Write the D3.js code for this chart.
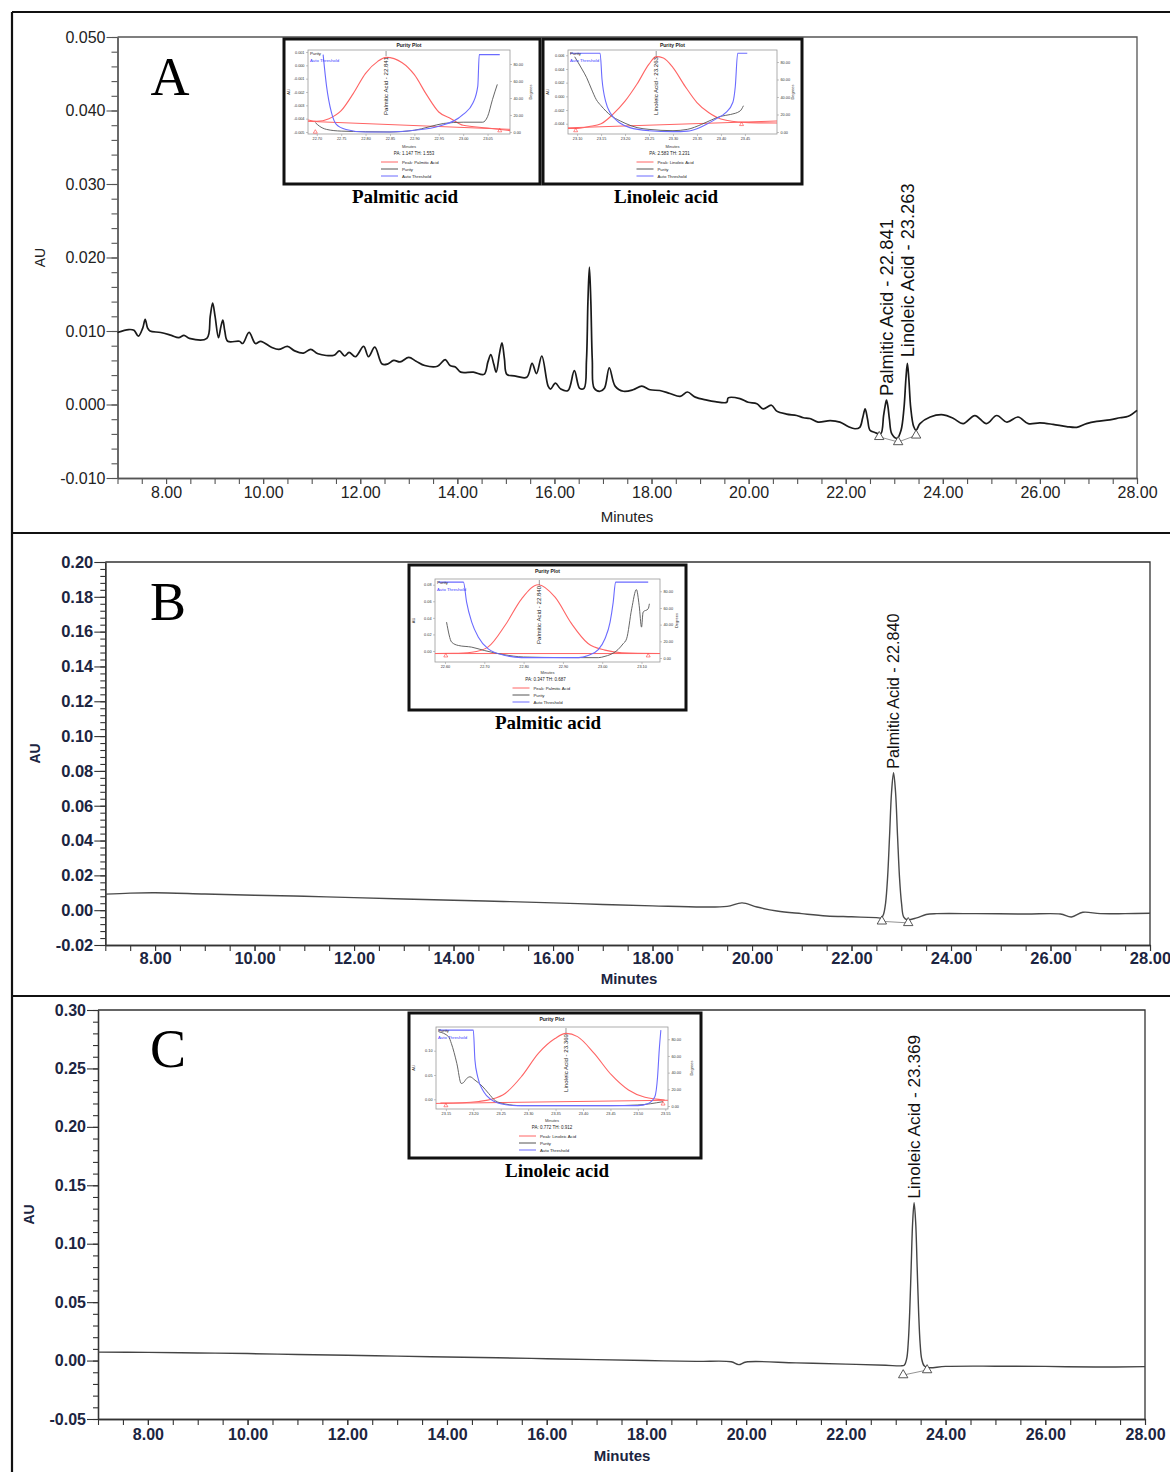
<!DOCTYPE html>
<html><head><meta charset="utf-8">
<script src="https://cdn.jsdelivr.net/npm/d3@7"></script>
<style>body{margin:0;background:#fff}svg{display:block}</style>
</head><body>
<svg id="chart" width="1170" height="1472"></svg>
<script>
// ---------------- DATA ----------------
const minuteTicks = [8,10,12,14,16,18,20,22,24,26,28];
const auTicksA = [-0.010,0.000,0.010,0.020,0.030,0.040,0.050];
const auTicksB = [-0.02,0.00,0.02,0.04,0.06,0.08,0.10,0.12,0.14,0.16,0.18,0.20];
const auTicksC = [-0.05,0.00,0.05,0.10,0.15,0.20,0.25,0.30];
const panelLetters = ["A","B","C"];

const traceA = [[7.00,0.0098],[7.23,0.0102],[7.34,0.0101],[7.43,0.0093],[7.52,0.0104],[7.57,0.0116],[7.62,0.0104],[7.67,0.0100],[7.89,0.0098],[8.11,0.0094],[8.26,0.0091],[8.37,0.0094],[8.48,0.0090],[8.84,0.0090],[8.91,0.0120],[8.96,0.0138],[9.01,0.0120],[9.08,0.0091],[9.13,0.0106],[9.17,0.0115],[9.21,0.0100],[9.27,0.0086],[9.51,0.0086],[9.58,0.0083],[9.71,0.0098],[9.84,0.0083],[9.95,0.0086],[10.17,0.0078],[10.32,0.0075],[10.50,0.0079],[10.65,0.0073],[10.83,0.0070],[10.98,0.0075],[11.13,0.0069],[11.46,0.0067],[11.57,0.0073],[11.68,0.0066],[11.77,0.0071],[11.90,0.0065],[12.07,0.0079],[12.17,0.0065],[12.30,0.0078],[12.45,0.0055],[12.56,0.0055],[12.69,0.0060],[12.82,0.0058],[13.00,0.0064],[13.15,0.0059],[13.33,0.0053],[13.59,0.0052],[13.75,0.0061],[13.85,0.0053],[13.96,0.0051],[14.07,0.0044],[14.33,0.0044],[14.55,0.0041],[14.63,0.0058],[14.69,0.0068],[14.75,0.0055],[14.80,0.0044],[14.87,0.0070],[14.92,0.0084],[14.97,0.0062],[15.02,0.0041],[15.17,0.0039],[15.43,0.0037],[15.54,0.0056],[15.63,0.0042],[15.74,0.0066],[15.87,0.0025],[15.92,0.0021],[16.02,0.0029],[16.13,0.0021],[16.28,0.0019],[16.41,0.0046],[16.52,0.0022],[16.61,0.0022],[16.66,0.0060],[16.69,0.0140],[16.72,0.0187],[16.75,0.0140],[16.78,0.0060],[16.82,0.0022],[16.94,0.0018],[17.03,0.0022],[17.13,0.0050],[17.25,0.0025],[17.42,0.0018],[17.62,0.0020],[17.80,0.0025],[17.97,0.0020],[18.17,0.0019],[18.38,0.0015],[18.59,0.0011],[18.74,0.0017],[18.90,0.0010],[19.14,0.0006],[19.31,0.0004],[19.55,0.0003],[19.58,0.0009],[19.82,0.0008],[19.99,0.0003],[20.17,0.0001],[20.30,-0.0006],[20.47,-0.0001],[20.58,-0.0009],[20.78,-0.0013],[20.99,-0.0015],[21.13,-0.0018],[21.26,-0.0019],[21.43,-0.0024],[21.68,-0.0022],[21.88,-0.0024],[22.05,-0.0030],[22.19,-0.0033],[22.29,-0.0031],[22.35,-0.0018],[22.40,-0.0006],[22.45,-0.0020],[22.50,-0.0035],[22.60,-0.0038],[22.72,-0.0040],[22.78,-0.0015],[22.81,-0.0003],[22.84,0.0006],[22.87,-0.0003],[22.90,-0.0020],[22.95,-0.0040],[23.06,-0.0046],[23.14,-0.0035],[23.20,-0.0005],[23.24,0.0035],[23.27,0.0056],[23.30,0.0035],[23.34,-0.0005],[23.40,-0.0030],[23.45,-0.0035],[23.53,-0.0026],[23.74,-0.0017],[24.01,-0.0014],[24.22,-0.0019],[24.42,-0.0026],[24.66,-0.0015],[24.90,-0.0026],[25.11,-0.0015],[25.32,-0.0024],[25.55,-0.0017],[25.76,-0.0026],[26.00,-0.0025],[26.27,-0.0027],[26.55,-0.0030],[26.76,-0.0031],[26.96,-0.0026],[27.17,-0.0023],[27.44,-0.0021],[27.65,-0.0018],[27.82,-0.0016],[28.00,-0.0008]];
const markersA = [[22.69,-0.0044],[23.08,-0.0051],[23.45,-0.0042]];
const peakLabelsA = [["Palmitic Acid - 22.841",22.841,0.0006],["Linoleic Acid - 23.263",23.263,0.0056]];

const traceB = [[7.00,0.0092],[7.5,0.0098],[8.0,0.0100],[9.0,0.0093],[10.0,0.0086],[11.0,0.0080],[12.0,0.0072],[13.0,0.0064],[14.0,0.0057],[15.0,0.0050],[16.0,0.0042],[17.0,0.0033],[18.0,0.0025],[19.0,0.0018],[19.5,0.0022],[19.8,0.0042],[20.1,0.0018],[20.5,-0.0005],[21.0,-0.0020],[21.5,-0.0033],[22.0,-0.0038],[22.5,-0.0043],[22.60,-0.0044],[22.645,-0.0022],[22.685,0.0041],[22.725,0.0187],[22.765,0.0428],[22.805,0.0679],[22.845,0.0790],[22.885,0.0679],[22.925,0.0428],[22.965,0.0187],[23.005,0.0041],[23.05,-0.0040],[23.12,-0.0055],[23.31,-0.0044],[23.50,-0.0025],[23.71,-0.0020],[24.5,-0.0020],[25.5,-0.0022],[26.2,-0.0022],[26.42,-0.0039],[26.65,-0.0012],[27.0,-0.0020],[27.5,-0.0020],[28.0,-0.0018]];
const markersB = [[22.61,-0.0064],[23.14,-0.0073]];
const peakLabelsB = [["Palmitic Acid - 22.840",22.840,0.0790]];

const traceC = [[7.00,0.0072],[8.0,0.0070],[9.0,0.0065],[10.0,0.0060],[11.0,0.0052],[12.0,0.0046],[13.0,0.0038],[14.0,0.0031],[15.0,0.0024],[16.0,0.0016],[17.0,0.0008],[18.0,0.0000],[19.0,-0.0007],[19.7,-0.0010],[19.85,-0.0035],[20.0,-0.0012],[21.0,-0.0020],[22.0,-0.0030],[22.8,-0.0040],[23.10,-0.0045],[23.17,-0.0040],[23.22,0.0016],[23.25,0.0144],[23.28,0.0408],[23.31,0.0801],[23.34,0.1186],[23.369,0.1350],[23.40,0.1186],[23.43,0.0801],[23.46,0.0408],[23.49,0.0144],[23.52,0.0016],[23.57,-0.0045],[23.65,-0.0060],[24.0,-0.0050],[25.0,-0.0048],[26.0,-0.0050],[27.0,-0.0055],[28.0,-0.0052]];
const markersC = [[23.15,-0.0124],[23.63,-0.0081]];
const peakLabelsC = [["Linoleic Acid - 23.369",23.369,0.1350]];

// purity plot insets
const degreeTicks = [0,20,40,60,80];
const insetA1XTicks = [22.70,22.75,22.80,22.85,22.90,22.95,23.00,23.05];
const insetA1YTicks = [0.001,0.000,-0.001,-0.002,-0.003,-0.004,-0.005];
const insetA1Peak = [[22.682,-0.0041],[22.70,-0.0042],[22.725,-0.0040],[22.75,-0.0034],[22.775,-0.0021],[22.80,-0.0006],[22.825,0.0003],[22.842,0.0006],[22.875,0.0002],[22.90,-0.0007],[22.925,-0.0022],[22.95,-0.0035],[22.975,-0.0040],[23.00,-0.0045],[23.05,-0.0047],[23.096,-0.0049]];
const insetA1Base = [[22.682,-0.0042],[23.096,-0.0048]];
const insetA1Tri = [[22.697,-0.0050],[23.075,-0.0049]];
const insetA1Purity = [[22.697,11],[22.705,7],[22.72,3],[22.75,1],[22.80,0.3],[22.85,0],[22.90,2],[22.93,6],[22.96,10],[23.00,11.5],[23.04,11.5],[23.05,18],[23.06,38],[23.07,56]];
const insetA1Thresh = [[22.713,91],[22.72,54],[22.73,23],[22.74,9],[22.76,3],[22.80,0],[22.85,0],[22.90,2],[22.95,6.7],[23.00,20.6],[23.02,34],[23.03,54],[23.033,91],[23.075,91]];

const insetA2XTicks = [23.10,23.15,23.20,23.25,23.30,23.35,23.40,23.45];
const insetA2YTicks = [0.006,0.004,0.002,0.000,-0.002,-0.004];
const insetA2Peak = [[23.081,-0.0047],[23.095,-0.0047],[23.125,-0.0044],[23.15,-0.0040],[23.175,-0.0026],[23.20,-0.0007],[23.225,0.0018],[23.25,0.0047],[23.265,0.0058],[23.28,0.0056],[23.30,0.0042],[23.325,0.0015],[23.35,-0.0009],[23.375,-0.0024],[23.40,-0.0033],[23.45,-0.0038],[23.517,-0.0039]];
const insetA2Base = [[23.081,-0.0046],[23.517,-0.0036]];
const insetA2Tri = [[23.097,-0.0050],[23.443,-0.0041]];
const insetA2Purity = [[23.095,86],[23.11,72],[23.12,62],[23.13,49],[23.14,37],[23.15,30],[23.17,19],[23.19,12.6],[23.20,10],[23.225,5],[23.25,3],[23.30,1.5],[23.33,3],[23.36,8.8],[23.38,13.7],[23.40,18],[23.42,20],[23.44,24],[23.447,30]];
const insetA2Thresh = [[23.085,90],[23.148,90],[23.152,60],[23.16,34],[23.17,21],[23.19,10],[23.21,5],[23.25,1.5],[23.30,0.4],[23.33,1],[23.35,3.8],[23.37,8.8],[23.39,15],[23.41,22],[23.425,34],[23.43,52],[23.435,90],[23.455,90]];

const insetBXTicks = [22.60,22.70,22.80,22.90,23.00,23.10];
const insetBYTicks = [0.00,0.02,0.04,0.06,0.08];
const insetBPeak = [[22.575,-0.0030],[22.62,-0.0028],[22.668,-0.0015],[22.71,0.0050],[22.753,0.0310],[22.795,0.0630],[22.837,0.0800],[22.88,0.0650],[22.922,0.0330],[22.964,0.0090],[23.007,0.0010],[23.05,-0.0022],[23.147,-0.0030]];
const insetBBase = [[22.575,-0.0031],[23.147,-0.0031]];
const insetBTri = [[22.602,-0.0058],[23.117,-0.0058]];
const insetBPurity = [[22.604,43],[22.617,19],[22.634,15],[22.668,13],[22.70,9],[22.75,4],[22.80,1.2],[22.90,0.5],[22.99,0.4],[23.007,2],[23.02,4],[23.04,10],[23.053,17],[23.062,23],[23.075,59],[23.087,82],[23.094,63],[23.10,37],[23.104,55],[23.117,59],[23.12,65]];
const insetBThresh = [[22.583,91],[22.647,91],[22.655,67],[22.668,43],[22.685,25],[22.71,11],[22.753,3],[22.795,0.4],[22.94,0.4],[22.964,3],[22.99,10],[23.007,23],[23.02,43],[23.028,67],[23.034,91],[23.117,91]];

const insetCXTicks = [23.15,23.20,23.25,23.30,23.35,23.40,23.45,23.50,23.55];
const insetCYTicks = [0.00,0.05,0.10];
const insetCPeak = [[23.14,-0.0080],[23.18,-0.0072],[23.21,-0.0045],[23.235,0.0005],[23.258,0.0120],[23.288,0.0470],[23.319,0.0950],[23.349,0.1250],[23.369,0.1356],[23.39,0.1290],[23.42,0.0950],[23.452,0.0500],[23.483,0.0190],[23.513,0.0040],[23.549,-0.0014]];
const insetCBase = [[23.132,-0.0085],[23.555,-0.0020]];
const insetCTri = [[23.15,-0.0130],[23.546,-0.0095]];
const insetCPurity = [[23.137,89],[23.155,83],[23.16,75],[23.17,51],[23.178,27],[23.182,28],[23.188,33],[23.194,35],[23.203,31],[23.216,24],[23.228,15],[23.24,6.4],[23.258,2.4],[23.288,0.4],[23.45,0.4],[23.50,1.2],[23.546,5.2]];
const insetCThresh = [[23.137,91],[23.20,91],[23.203,55],[23.208,35],[23.219,17],[23.234,7],[23.252,2.4],[23.28,0.4],[23.50,0.4],[23.519,3],[23.531,11],[23.536,35],[23.539,67],[23.542,91]];

// ---------------- DRAW ----------------
const svg = d3.select("#chart");
const SANS = "'Liberation Sans', Arial, sans-serif";
const NARROW = "'Liberation Sans Narrow', 'Arial Narrow', 'Liberation Sans', Arial, sans-serif";
const SERIF = "'Liberation Serif', 'Times New Roman', serif";

svg.append("rect").attr("width",1170).attr("height",1472).attr("fill","#fff");

function drawChrom(p) {
  const x = d3.scaleLinear().domain([7,28]).range([p.left,p.right]);
  const y = d3.scaleLinear().domain(p.yDomain).range([p.bottom,p.top]);
  const g = svg.append("g");
  g.append("path").attr("d",`M${p.left},${p.top}H${p.right}V${p.bottom}`)
    .attr("fill","none").attr("stroke",p.axisColor).attr("stroke-width",1.3);
  const yMinor = d3.range(p.yDomain[0], p.yDomain[1]+1e-9, p.yMinor);
  g.append("g").attr("transform",`translate(${p.left},0)`)
    .call(d3.axisLeft(y).tickValues(yMinor).tickFormat("").tickSize(p.minorLen).tickSizeOuter(0));
  g.append("g").attr("transform",`translate(${p.left},0)`)
    .call(d3.axisLeft(y).tickValues(p.yTicks).tickFormat(d=>d.toFixed(p.yDec)).tickSize(11).tickSizeOuter(0).tickPadding(1));
  const xMinor = d3.range(7,28.001,0.5);
  g.append("g").attr("transform",`translate(0,${p.bottom})`)
    .call(d3.axisBottom(x).tickValues(xMinor).tickFormat("").tickSize(6).tickSizeOuter(0));
  g.append("g").attr("transform",`translate(0,${p.bottom})`)
    .call(d3.axisBottom(x).tickValues(minuteTicks).tickFormat(d=>d.toFixed(2)).tickSize(6).tickSizeOuter(0).tickPadding(p.xPad));
  g.selectAll(".domain").attr("stroke",p.axisColor).attr("stroke-width",1.3);
  g.selectAll(".tick line").attr("stroke",p.axisColor).attr("stroke-width",1.1);
  g.selectAll(".tick text").attr("font-family",SANS).attr("font-size",p.fontSize)
    .attr("font-weight",p.weight).attr("fill",p.textColor);
  g.append("text").attr("transform",`translate(${p.auX},${(p.top+p.bottom)/2}) rotate(-90)`)
    .attr("text-anchor","middle").attr("dy","0.35em").attr("font-family",SANS)
    .attr("font-size",p.titleSize).attr("font-weight",p.weight).attr("fill",p.textColor).text("AU");
  g.append("text").attr("x",p.minX).attr("y",p.minY).attr("text-anchor","middle")
    .attr("font-family",SANS).attr("font-size",p.titleSize+1).attr("font-weight",p.weight)
    .attr("fill",p.textColor).text("Minutes");
  g.append("path").datum(p.markers)
    .attr("d",d3.line().x(d=>x(d[0])).y(d=>y(d[1])))
    .attr("fill","none").attr("stroke","#777").attr("stroke-width",0.8);
  g.append("path").datum(p.data)
    .attr("d",d3.line().x(d=>x(d[0])).y(d=>y(d[1])).curve(d3.curveCatmullRom.alpha(0.5)))
    .attr("fill","none").attr("stroke",p.traceColor).attr("stroke-width",p.traceWidth)
    .attr("stroke-linejoin","round");
  g.selectAll(".mk").data(p.markers).join("path")
    .attr("transform",d=>`translate(${x(d[0])},${y(d[1])})`)
    .attr("d",d3.symbol(d3.symbolTriangle).size(38))
    .attr("fill","#fff").attr("stroke","#444").attr("stroke-width",0.9);
  p.labels.forEach((l,i)=>{
    g.append("text").attr("transform",`translate(${x(l[1])},${y(l[2])-p.labelGap[i]}) rotate(-90)`)
      .attr("dy","0.36em").attr("font-family",p.labelFont).attr("font-size",p.labelSize)
      .attr("textLength",p.labelLen[i]).attr("lengthAdjust","spacingAndGlyphs")
      .attr("fill","#111").text(l[0]);
  });
  g.append("text").attr("x",p.letterX).attr("y",p.letterY).attr("text-anchor","middle")
    .attr("font-family",SERIF).attr("font-size",54).attr("fill","#000").text(p.letter);
}

drawChrom({letter:panelLetters[0],letterX:170,letterY:95,left:117.5,right:1137,top:37,bottom:478,yDomain:[-0.010,0.050],
  yTicks:auTicksA,yMinor:0.002,yDec:3,minorLen:6,xPad:3,axisColor:"#555",textColor:"#222",fontSize:16,weight:"normal",
  titleSize:14,auX:40,minX:627,minY:522,data:traceA,markers:markersA,traceColor:"#1a1a1a",traceWidth:1.7,
  labels:peakLabelsA,labelGap:[4,6],labelLen:[177,174],labelFont:SANS,labelSize:18});
drawChrom({letter:panelLetters[1],letterX:168,letterY:620,left:105.3,right:1150,top:562,bottom:945,yDomain:[-0.02,0.20],
  yTicks:auTicksB,yMinor:0.004,yDec:2,minorLen:5,xPad:1,axisColor:"#333",textColor:"#1c2541",fontSize:16.5,weight:"bold",
  titleSize:14,auX:35,minX:629,minY:984,data:traceB,markers:markersB,traceColor:"#4a4a4a",traceWidth:1.4,
  labels:peakLabelsB,labelGap:[4],labelLen:[155],labelFont:NARROW,labelSize:17});
drawChrom({letter:panelLetters[2],letterX:168,letterY:1067,left:98,right:1145,top:1010,bottom:1419,yDomain:[-0.05,0.30],
  yTicks:auTicksC,yMinor:0.01,yDec:2,minorLen:5,xPad:4,axisColor:"#333",textColor:"#1c2541",fontSize:16,weight:"bold",
  titleSize:14,auX:29,minX:622,minY:1461,data:traceC,markers:markersC,traceColor:"#444",traceWidth:1.4,
  labels:peakLabelsC,labelGap:[4],labelLen:[164],labelFont:NARROW,labelSize:17});

const fr = svg.append("g").attr("stroke","#111").attr("stroke-width",2.2);
fr.append("line").attr("x1",12).attr("x2",1170).attr("y1",12).attr("y2",12);
fr.append("line").attr("x1",12).attr("x2",12).attr("y1",12).attr("y2",1472);
fr.append("line").attr("x1",12).attr("x2",1170).attr("y1",533).attr("y2",533);
fr.append("line").attr("x1",12).attr("x2",1170).attr("y1",996).attr("y2",996);

function drawInset(c) {
  const [bx,by,bw,bh] = c.box; const [pl,pt,pr,pb] = c.plot;
  const g = svg.append("g");
  g.append("rect").attr("x",bx).attr("y",by).attr("width",bw).attr("height",bh)
    .attr("fill","#fff").attr("stroke","#111").attr("stroke-width",3);
  const x = d3.scaleLinear().domain(c.xDomain).range([pl,pr]);
  const yl = d3.scaleLinear().domain(c.yLDomain).range([pb,pt]);
  const yr = d3.scaleLinear().domain(c.yRDomain).range([pb,pt]);
  const mid = (pl+pr)/2, cx = bx+bw/2;
  g.append("text").attr("x",mid).attr("y",by+7.5).attr("text-anchor","middle")
    .attr("font-family",SANS).attr("font-size",5).attr("font-weight","bold").attr("fill","#222").text("Purity Plot");
  const ax = g.append("g");
  ax.append("g").attr("transform",`translate(0,${pb})`)
    .call(d3.axisBottom(x).tickValues(c.xTicks).tickFormat(d=>d.toFixed(2)).tickSize(2).tickPadding(1.5));
  ax.append("g").attr("transform",`translate(${pl},0)`)
    .call(d3.axisLeft(yl).tickValues(c.yLTicks).tickFormat(d=>d.toFixed(c.yLDec)).tickSize(2).tickPadding(1.5));
  ax.append("g").attr("transform",`translate(${pr},0)`)
    .call(d3.axisRight(yr).tickValues(degreeTicks).tickFormat(d=>d.toFixed(2)).tickSize(2).tickPadding(1.5));
  ax.selectAll(".domain").remove();
  ax.selectAll(".tick line").attr("stroke","#888").attr("stroke-width",0.5);
  ax.selectAll(".tick text").attr("font-size",3.8).attr("fill","#333").attr("font-family",SANS);
  g.append("rect").attr("x",pl).attr("y",pt).attr("width",pr-pl).attr("height",pb-pt)
    .attr("fill","none").attr("stroke","#999").attr("stroke-width",0.8);
  g.append("text").attr("transform",`translate(${bx+6},${(pt+pb)/2}) rotate(-90)`).attr("text-anchor","middle")
    .attr("font-family",SANS).attr("font-size",4).attr("fill","#333").text("AU");
  g.append("text").attr("transform",`translate(${bx+bw-8},${(pt+pb)/2}) rotate(-90)`).attr("text-anchor","middle")
    .attr("font-family",SANS).attr("font-size",4).attr("fill","#333").text("Degrees");
  g.append("text").attr("x",mid).attr("y",by+109).attr("text-anchor","middle")
    .attr("font-family",SANS).attr("font-size",4).attr("fill","#333").text("Minutes");
  const clipId = "clip-"+c.id;
  svg.append("clipPath").attr("id",clipId).append("rect").attr("x",pl).attr("y",pt).attr("width",pr-pl).attr("height",pb-pt);
  const cg = g.append("g").attr("clip-path",`url(#${clipId})`);
  const lAU = d3.line().x(d=>x(d[0])).y(d=>yl(d[1])).curve(d3.curveMonotoneX);
  const lDeg = d3.line().x(d=>x(d[0])).y(d=>yr(d[1])).curve(d3.curveMonotoneX);
  cg.append("path").datum(c.base).attr("d",lAU).attr("fill","none").attr("stroke","#ff6464").attr("stroke-width",1);
  cg.append("path").datum(c.peak).attr("d",lAU).attr("fill","none").attr("stroke","#ff6464").attr("stroke-width",1.1);
  cg.append("path").datum(c.purity).attr("d",lDeg).attr("fill","none").attr("stroke","#555").attr("stroke-width",0.9);
  cg.append("path").datum(c.thresh).attr("d",lDeg).attr("fill","none").attr("stroke","#6b6bff").attr("stroke-width",1.1);
  g.selectAll(".tri").data(c.tri).join("path")
    .attr("transform",d=>`translate(${x(d[0])},${yl(d[1])})`)
    .attr("d",d3.symbol(d3.symbolTriangle).size(7)).attr("fill","none").attr("stroke","#ff4040").attr("stroke-width",0.6);
  g.append("text").attr("transform",`translate(${x(c.apex)},${pt+65}) rotate(-90)`).attr("dy","0.35em")
    .attr("font-family",SANS).attr("font-size",5).attr("textLength",58).attr("lengthAdjust","spacingAndGlyphs")
    .attr("fill","#222").text(c.peakName);
  g.append("line").attr("x1",x(c.apex)).attr("x2",x(c.apex)).attr("y1",pt+1).attr("y2",pt+6).attr("stroke","#333").attr("stroke-width",0.5);
  g.append("text").attr("x",pl+2).attr("y",pt+5).attr("font-family",SANS).attr("font-size",4.3).attr("fill","#222").text("Purity");
  g.append("text").attr("x",pl+2).attr("y",pt+12).attr("font-family",SANS).attr("font-size",4.3).attr("fill","#3b3bff").text("Auto Threshold");
  g.append("text").attr("x",cx+c.dx).attr("y",by+116).attr("text-anchor","middle").attr("font-family",SANS)
    .attr("font-size",4.5).attr("fill","#222").text(c.pa);
  const leg = [[c.legendName,"#ff6464"],["Purity","#555"],["Auto Threshold","#6b6bff"]];
  leg.forEach((l,i)=>{
    const yy = by+123+i*7;
    g.append("line").attr("x1",cx+c.dx-33).attr("x2",cx+c.dx-16).attr("y1",yy).attr("y2",yy).attr("stroke",l[1]).attr("stroke-width",1);
    g.append("text").attr("x",cx+c.dx-12).attr("y",yy+1.5).attr("font-family",SANS).attr("font-size",4.3).attr("fill","#222").text(l[0]);
  });
  svg.append("text").attr("x",c.capX).attr("y",by+bh+19).attr("text-anchor","middle")
    .attr("font-family",SERIF).attr("font-size",19).attr("font-weight","bold").attr("fill","#000").text(c.caption);
}

drawInset({id:"a1",box:[284,39,256,145],plot:[308,50,510,134],xDomain:[22.682,23.096],yLDomain:[-0.00515,0.00115],yRDomain:[-2.4,96.5],
  xTicks:insetA1XTicks,yLTicks:insetA1YTicks,yLDec:3,peak:insetA1Peak,base:insetA1Base,tri:insetA1Tri,purity:insetA1Purity,thresh:insetA1Thresh,
  apex:22.842,peakName:"Palmitic Acid - 22.841",pa:"PA:  1.147  TH:  1.553",legendName:"Peak: Palmitic Acid",caption:"Palmitic acid",capX:405,dx:2});
drawInset({id:"a2",box:[543,39,259,145],plot:[568,50,777,134],xDomain:[23.081,23.517],yLDomain:[-0.0055,0.00677],yRDomain:[-2.3,93.7],
  xTicks:insetA2XTicks,yLTicks:insetA2YTicks,yLDec:3,peak:insetA2Peak,base:insetA2Base,tri:insetA2Tri,purity:insetA2Purity,thresh:insetA2Thresh,
  apex:23.265,peakName:"Linoleic Acid - 23.263",pa:"PA:  2.583  TH:  3.231",legendName:"Peak: Linoleic Acid",caption:"Linoleic acid",capX:666,dx:-3});
drawInset({id:"b",box:[409,565,277,145],plot:[435,579,660,662],xDomain:[22.5746,23.147],yLDomain:[-0.0133,0.0869],yRDomain:[-4.8,94.7],
  xTicks:insetBXTicks,yLTicks:insetBYTicks,yLDec:2,peak:insetBPeak,base:insetBBase,tri:insetBTri,purity:insetBPurity,thresh:insetBThresh,
  apex:22.84,peakName:"Palmitic Acid - 22.840",pa:"PA:  0.347  TH:  0.687",legendName:"Peak: Palmitic Acid",caption:"Palmitic acid",capX:548,dx:-2});
drawInset({id:"c",box:[409,1013,292,145],plot:[436,1027,668,1109],xDomain:[23.132,23.555],yLDomain:[-0.020,0.1488],yRDomain:[-3.6,94.7],
  xTicks:insetCXTicks,yLTicks:insetCYTicks,yLDec:2,peak:insetCPeak,base:insetCBase,tri:insetCTri,purity:insetCPurity,thresh:insetCThresh,
  apex:23.369,peakName:"Linoleic Acid - 23.369",pa:"PA:  0.772  TH:  0.912",legendName:"Peak: Linoleic Acid",caption:"Linoleic acid",capX:557,dx:-3});
</script>
</body></html>
